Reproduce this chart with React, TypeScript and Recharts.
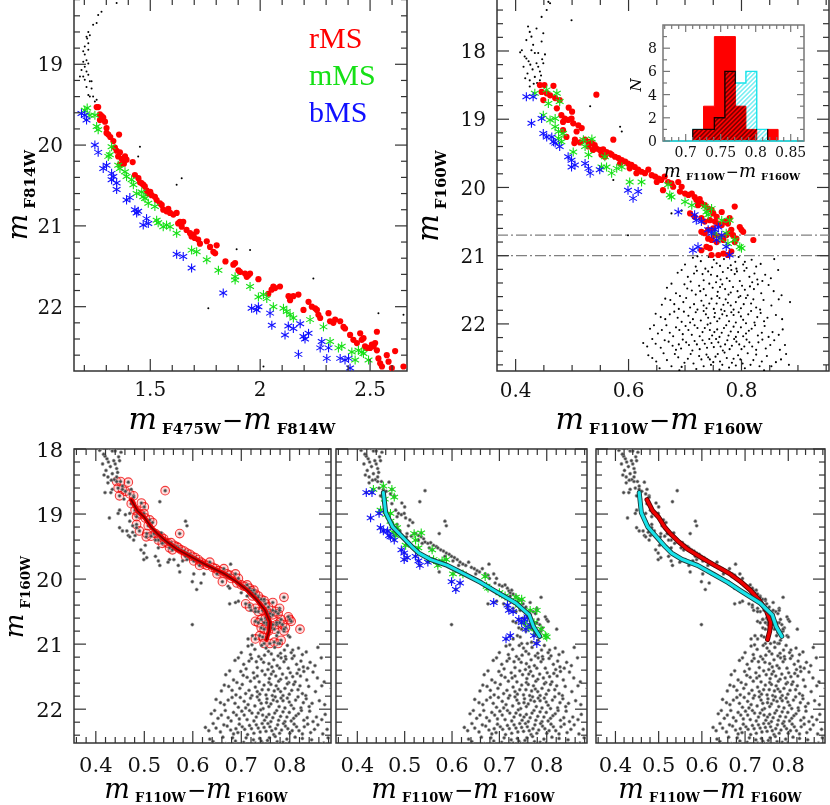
import React from 'react';
import { ScatterChart, ComposedChart, Scatter, Area, XAxis, YAxis, ReferenceArea, ReferenceLine } from 'recharts';

type P = [number, number];

// ---------------- Panel A: optical CMD (F475W-F814W, F814W) ----------------
const A_BLACK: P[] = [
  [1.347,18.24],[1.278,18.35],[1.263,18.39],[1.256,18.49],[1.24,18.51],[1.218,18.6],[1.21,18.66],[1.225,18.64],[1.213,18.68],
  [1.202,18.78],[1.218,18.82],[1.202,18.88],[1.21,18.95],[1.195,18.97],[1.218,18.99],[1.202,19.03],[1.187,19.07],[1.21,19.09],
  [1.218,19.13],[1.195,19.15],[1.202,19.19],[1.225,19.21],[1.21,19.28],[1.233,19.3],[1.218,19.38],[1.24,19.4],[1.225,19.4],
  [1.256,19.44],[1.248,19.46],[1.233,19.21],[1.18,19.15],[1.218,18.74],[1.195,18.84],[1.453,20.02],[1.445,20.14],[1.643,20.41],
  [1.62,20.49],[1.893,21.29],[1.954,21.3],[2.242,21.65],[1.764,22.02],[2.538,22.08],[2.652,22.1],[2.015,22.74],
];
const A_RMS: P[] = [
  [1.256,19.53],[1.263,19.53],[1.271,19.62],[1.279,19.64],[1.286,19.66],[1.271,19.69],[1.294,19.71],[1.301,19.79],[1.301,19.85],
  [1.309,19.87],[1.358,19.87],[1.332,19.95],[1.339,20.03],[1.347,20.07],[1.362,20.09],[1.354,20.14],[1.385,20.14],[1.392,20.18],
  [1.377,20.22],[1.362,20.24],[1.42,20.21],[1.38,20.23],[1.43,20.37],[1.446,20.41],[1.453,20.46],[1.46,20.47],[1.468,20.49],
  [1.475,20.51],[1.483,20.56],[1.49,20.6],[1.506,20.62],[1.521,20.64],[1.529,20.68],[1.544,20.72],[1.552,20.74],[1.559,20.8],
  [1.574,20.82],[1.59,20.84],[1.605,20.86],[1.62,20.84],[1.635,20.95],[1.627,20.97],[1.65,20.95],[1.643,21.01],[1.665,21.05],
  [1.681,21.09],[1.696,21.11],[1.688,21.13],[1.711,21.07],[1.718,21.17],[1.726,21.22],[1.757,21.19],[1.772,21.26],[1.787,21.32],
  [1.802,21.24],[1.795,21.34],[1.842,21.44],[1.878,21.48],[1.886,21.46],[1.901,21.55],[1.908,21.57],[1.931,21.59],[1.939,21.63],
  [1.946,21.61],[1.954,21.59],[1.992,21.66],[2.037,21.84],[2.052,21.79],[2.068,21.77],[2.09,21.75],[2.06,21.75],[2.129,21.87],
  [2.136,21.92],[2.151,21.87],[2.174,21.85],[2.197,22.04],[2.22,21.94],[2.235,22.0],[2.25,22.02],[2.258,22.04],[2.265,22.1],
  [2.273,22.14],[2.311,22.08],[2.318,22.18],[2.333,22.2],[2.341,22.16],[2.364,22.18],[2.379,22.25],[2.386,22.27],[2.409,22.35],
  [2.424,22.41],[2.44,22.45],[2.455,22.33],[2.462,22.41],[2.47,22.39],[2.477,22.49],[2.485,22.51],[2.5,22.51],[2.508,22.47],
  [2.516,22.49],[2.523,22.45],[2.531,22.31],[2.531,22.54],[2.538,22.64],[2.546,22.7],[2.554,22.74],[2.576,22.6],[2.584,22.68],
  [2.599,22.76],[2.614,22.55],[2.652,22.74],[1.318,19.9],[1.37,20.17],[1.5,20.58],[1.582,20.79],[1.702,21.15],
];
const A_MMS: P[] = [
  [1.202,19.57],[1.213,19.54],[1.225,19.63],[1.248,19.63],[1.256,19.77],[1.263,19.81],[1.324,20.02],[1.316,20.12],[1.309,20.14],
  [1.354,20.25],[1.362,20.29],[1.385,20.33],[1.392,20.39],[1.415,20.43],[1.423,20.49],[1.438,20.6],[1.461,20.58],[1.468,20.64],
  [1.476,20.66],[1.491,20.72],[1.521,20.76],[1.529,20.93],[1.536,20.96],[1.559,21.01],[1.574,20.99],[1.59,21.01],[1.62,21.09],
  [1.688,21.3],[1.711,21.32],[1.757,21.42],[1.81,21.55],[1.886,21.63],[1.886,21.67],[1.954,21.75],[1.992,21.88],[2.015,21.85],
  [2.03,21.9],[2.06,22.0],[2.106,22.02],[2.121,22.06],[2.136,22.1],[2.151,22.14],[2.227,22.16],[2.288,22.25],[2.318,22.43],
  [2.356,22.51],[2.371,22.49],[2.417,22.56],[2.432,22.66],[2.447,22.54],[2.462,22.56],[2.47,22.58],[2.493,22.66],
];
const A_BMS: P[] = [
  [1.187,19.61],[1.202,19.63],[1.21,19.69],[1.248,20.0],[1.263,20.09],[1.286,20.29],[1.301,20.25],[1.324,20.35],[1.332,20.39],
  [1.324,20.43],[1.347,20.47],[1.347,20.55],[1.392,20.68],[1.407,20.65],[1.43,20.8],[1.438,20.84],[1.445,20.82],[1.483,20.91],
  [1.468,20.99],[1.491,20.97],[1.62,21.35],[1.65,21.38],[1.688,21.52],[1.832,21.83],[1.961,22.02],[1.984,22.04],[1.992,22.0],
  [2.045,22.08],[2.053,22.23],[2.113,22.35],[2.128,22.24],[2.151,22.27],[2.182,22.21],[2.197,22.37],[2.204,22.4],[2.22,22.33],
  [2.174,22.59],[2.273,22.51],[2.28,22.43],[2.311,22.51],[2.303,22.64],[2.364,22.64],[2.386,22.66],[2.402,22.64],[2.409,22.76],
];
const GROUP_LABELS = ['rMS', 'mMS', 'bMS'];

// ---------------- IR CMD (F110W-F160W, F160W) ----------------
const IR_UPPER: P[] = [
  [0.411,17.99],[0.419,17.84],[0.425,17.72],[0.428,17.79],[0.431,17.91],[0.434,18.03],[0.437,18.18],[0.44,18.23],[0.443,18.3],
  [0.434,18.38],[0.417,18.4],[0.414,18.23],[0.425,18.43],[0.443,18.43],[0.446,17.86],[0.449,17.74],[0.446,17.5],[0.455,17.4],
  [0.461,17.3],[0.458,17.28],[0.499,17.55],[0.419,18.11],[0.428,17.99],[0.437,17.67],[0.422,17.64],[0.44,18.03],[0.449,18.18],
  [0.416,18.08],[0.423,18.15],[0.43,18.27],[0.421,18.33],[0.438,18.47],[0.447,18.12],[0.452,18.05],[0.432,18.48],[0.425,18.52],
  [0.408,18.02],[0.426,18.2],[0.445,18.36],
];
const IR_FIELD: P[] = [
  [0.532,18.81],[0.585,19.11],[0.588,19.18],[0.599,20.7],[0.676,20.38],[0.694,20.34],[0.573,19.89],[0.678,19.77],
];
const IR_LOWER: P[] = [
  [0.714,21.03],[0.728,21.08],[0.742,21.02],[0.756,21.11],[0.769,21.05],[0.781,21.14],[0.795,21.02],[0.806,21.09],[0.818,21.06],
  [0.748,21.17],[0.736,21.19],[0.791,21.19],[0.762,21.15],[0.809,21.18],[0.7,21.13],[0.826,21.16],
  [0.722,21.01],[0.751,21.06],[0.789,21.09],[0.834,21.12],[0.776,21.18],[0.719,21.16],[0.803,21.13],[0.858,21.05],
  [0.687,21.25],[0.705,21.31],[0.721,21.22],[0.733,21.36],[0.746,21.28],[0.755,21.39],[0.767,21.24],[0.774,21.33],[0.788,21.27],
  [0.797,21.37],[0.805,21.22],[0.814,21.31],[0.828,21.35],[0.842,21.28],[0.865,21.21],[0.741,21.23],[0.763,21.35],[0.782,21.21],
  [0.71,21.38],[0.819,21.39],
  [0.694,21.21],[0.731,21.27],[0.757,21.3],[0.779,21.37],[0.792,21.23],[0.823,21.26],[0.837,21.37],[0.716,21.26],[0.852,21.33],
  [0.668,21.47],[0.684,21.55],[0.699,21.42],[0.712,21.51],[0.725,21.44],[0.737,21.58],[0.749,21.47],[0.758,21.53],[0.766,21.42],
  [0.777,21.57],[0.785,21.46],[0.793,21.52],[0.801,21.44],[0.811,21.58],[0.822,21.49],[0.835,21.55],[0.848,21.43],[0.871,21.58],
  [0.727,21.52],[0.771,21.49],[0.757,21.59],[0.806,21.5],[0.691,21.59],
  [0.676,21.41],[0.704,21.48],[0.719,21.57],[0.743,21.41],[0.762,21.46],[0.781,21.54],[0.798,21.59],[0.815,21.45],[0.829,21.42],
  [0.857,21.52],[0.733,21.49],
  [0.659,21.72],[0.674,21.65],[0.689,21.78],[0.702,21.62],[0.716,21.71],[0.729,21.66],[0.738,21.77],[0.747,21.63],[0.756,21.7],
  [0.764,21.79],[0.772,21.64],[0.781,21.73],[0.79,21.68],[0.799,21.77],[0.808,21.62],[0.817,21.7],[0.826,21.76],[0.839,21.65],
  [0.853,21.73],[0.886,21.68],[0.743,21.7],[0.768,21.72],[0.795,21.61],[0.722,21.79],
  [0.665,21.63],[0.681,21.71],[0.697,21.68],[0.709,21.76],[0.733,21.73],[0.751,21.78],[0.776,21.69],[0.786,21.79],[0.804,21.71],
  [0.821,21.64],[0.833,21.79],[0.866,21.64],[0.761,21.62],
  [0.648,21.85],[0.665,21.93],[0.681,21.82],[0.694,21.97],[0.706,21.88],[0.719,21.83],[0.728,21.95],[0.737,21.86],[0.745,21.99],
  [0.753,21.84],[0.761,21.92],[0.77,21.81],[0.778,21.96],[0.786,21.87],[0.795,21.83],[0.803,21.94],[0.812,21.86],[0.823,21.98],
  [0.834,21.84],[0.846,21.91],[0.861,21.87],[0.752,21.9],[0.774,21.88],[0.79,21.98],[0.709,21.98],[0.817,21.81],
  [0.657,21.9],[0.673,21.86],[0.687,21.91],[0.698,21.82],[0.714,21.93],[0.733,21.81],[0.741,21.91],[0.757,21.96],[0.766,21.86],
  [0.782,21.83],[0.799,21.89],[0.808,21.99],[0.828,21.9],[0.84,21.96],[0.872,21.93],
  [0.638,22.07],[0.652,22.14],[0.667,22.02],[0.679,22.18],[0.69,22.09],[0.701,22.03],[0.712,22.16],[0.722,22.06],[0.731,22.12],
  [0.74,22.01],[0.748,22.17],[0.757,22.08],[0.765,22.13],[0.773,22.02],[0.781,22.11],[0.79,22.19],[0.799,22.05],[0.808,22.14],
  [0.818,22.07],[0.829,22.17],[0.841,22.03],[0.855,22.12],[0.873,22.08],[0.744,22.09],[0.761,22.19],[0.786,22.04],[0.726,22.18],
  [0.803,22.18],
  [0.645,22.02],[0.659,22.09],[0.673,22.13],[0.684,22.05],[0.696,22.15],[0.706,22.09],[0.717,22.02],[0.735,22.06],[0.752,22.12],
  [0.769,22.06],[0.777,22.17],[0.794,22.12],[0.813,22.1],[0.824,22.02],[0.836,22.13],[0.848,22.19],[0.866,22.16],
  [0.626,22.28],[0.642,22.22],[0.657,22.35],[0.671,22.26],[0.684,22.38],[0.696,22.23],[0.707,22.31],[0.717,22.25],[0.726,22.37],
  [0.735,22.29],[0.743,22.22],[0.751,22.34],[0.759,22.27],[0.767,22.39],[0.775,22.24],[0.783,22.32],[0.791,22.26],[0.8,22.37],
  [0.809,22.23],[0.819,22.33],[0.83,22.27],[0.843,22.36],[0.858,22.24],[0.877,22.31],[0.739,22.35],[0.755,22.22],[0.771,22.3],
  [0.796,22.3],[0.713,22.39],[0.689,22.3],
  [0.633,22.33],[0.648,22.29],[0.664,22.24],[0.678,22.32],[0.693,22.36],[0.702,22.27],[0.721,22.3],[0.731,22.24],[0.747,22.28],
  [0.763,22.33],[0.779,22.37],[0.787,22.22],[0.805,22.33],[0.814,22.27],[0.826,22.38],[0.837,22.23],[0.851,22.31],[0.868,22.38],
  [0.635,22.46],[0.649,22.55],[0.662,22.43],[0.676,22.62],[0.688,22.49],[0.699,22.57],[0.71,22.44],[0.72,22.66],[0.729,22.52],
  [0.738,22.45],[0.746,22.6],[0.754,22.48],[0.762,22.55],[0.77,22.42],[0.778,22.64],[0.786,22.51],[0.794,22.46],[0.802,22.58],
  [0.811,22.43],[0.821,22.53],[0.832,22.62],[0.845,22.47],[0.861,22.56],[0.879,22.44],[0.744,22.52],[0.761,22.67],[0.783,22.57],
  [0.725,22.47],[0.806,22.65],[0.69,22.68],[0.655,22.65],[0.84,22.68],
  [0.642,22.5],[0.668,22.53],[0.682,22.44],[0.694,22.63],[0.705,22.51],[0.715,22.58],[0.733,22.62],[0.741,22.49],[0.75,22.56],
  [0.758,22.44],[0.766,22.6],[0.774,22.5],[0.79,22.61],[0.798,22.52],[0.816,22.6],[0.826,22.45],[0.836,22.55],[0.853,22.62],
  [0.87,22.52],[0.884,22.6],
];
const IR_RMS: P[] = [
  [0.443,18.5],[0.451,18.5],[0.467,18.51],[0.446,18.6],[0.455,18.62],[0.461,18.65],[0.449,18.72],[0.47,18.69],[0.478,18.72],
  [0.473,18.84],[0.543,18.64],[0.494,18.83],[0.5,18.89],[0.481,18.94],[0.487,18.99],[0.493,19.01],[0.484,19.04],[0.499,18.99],
  [0.502,19.06],[0.484,19.16],[0.511,19.09],[0.517,19.13],[0.508,19.18],[0.49,19.26],[0.505,19.3],[0.504,19.35],[0.514,19.34],
  [0.523,19.3],[0.529,19.33],[0.535,19.35],[0.54,19.38],[0.529,19.4],[0.543,19.43],[0.549,19.45],[0.555,19.44],[0.561,19.48],
  [0.567,19.5],[0.552,19.52],[0.558,19.55],[0.57,19.52],[0.576,19.55],[0.582,19.57],[0.573,19.3],[0.588,19.6],[0.594,19.62],
  [0.599,19.65],[0.605,19.67],[0.611,19.7],[0.602,19.72],[0.617,19.74],[0.623,19.77],[0.629,19.79],[0.635,19.74],[0.641,19.82],
  [0.647,19.84],[0.653,19.87],[0.658,19.89],[0.664,19.84],[0.67,19.92],[0.676,19.94],[0.661,20.04],[0.688,19.92],[0.694,19.99],
  [0.691,20.06],[0.7,20.09],[0.706,20.11],[0.712,20.09],[0.717,20.14],[0.72,20.18],[0.723,20.21],[0.729,20.23],[0.726,20.17],
  [0.735,20.26],[0.741,20.31],[0.747,20.33],[0.709,20.38],[0.717,20.43],[0.729,20.45],[0.735,20.5],[0.744,20.48],[0.753,20.5],
  [0.759,20.53],[0.765,20.55],[0.771,20.5],[0.776,20.53],[0.779,20.45],[0.788,20.28],[0.765,20.36],[0.797,20.58],[0.8,20.62],
  [0.803,20.65],[0.821,20.77],[0.729,20.65],[0.735,20.67],[0.741,20.75],[0.747,20.77],[0.753,20.7],[0.756,20.8],[0.762,20.72],
  [0.768,20.77],[0.773,20.7],[0.779,20.67],[0.785,20.7],[0.791,20.75],[0.738,20.87],[0.744,20.89],[0.729,20.92],[0.747,20.99],
  [0.759,20.99],[0.768,20.97],[0.776,20.99],[0.782,20.94],[0.741,20.62],[0.75,20.6],[0.782,20.62],[0.788,20.8],[0.537,19.45],
  [0.585,19.65],[0.614,19.79],[0.65,19.92],[0.679,19.99],[0.723,20.26],[0.75,20.38],[0.756,20.43],
];
const IR_MMS: P[] = [
  [0.434,18.62],[0.455,18.57],[0.473,18.62],[0.478,18.74],[0.458,18.77],[0.449,18.94],[0.461,19.01],[0.47,18.99],[0.47,19.11],
  [0.476,19.18],[0.484,19.21],[0.476,19.28],[0.481,19.33],[0.52,19.3],[0.523,19.4],[0.529,19.52],[0.502,19.48],[0.558,19.55],
  [0.561,19.7],[0.57,19.79],[0.579,19.72],[0.588,19.7],[0.602,19.92],[0.623,19.92],[0.67,19.96],[0.673,20.11],[0.676,20.14],
  [0.7,20.21],[0.712,20.26],[0.735,20.28],[0.738,20.36],[0.741,20.4],[0.747,20.31],[0.765,20.48],[0.779,20.48],[0.773,20.67],
  [0.788,20.77],[0.797,20.87],[0.8,20.89],[0.776,20.82],[0.753,20.67],[0.762,20.75],[0.535,19.29],[0.552,19.7],
];
const IR_BMS: P[] = [
  [0.419,18.67],[0.431,18.67],[0.428,19.06],[0.446,18.99],[0.449,19.21],[0.455,19.26],[0.464,19.26],[0.467,19.33],[0.47,19.35],
  [0.478,19.4],[0.493,19.55],[0.499,19.6],[0.505,19.67],[0.499,19.7],[0.523,19.65],[0.529,19.72],[0.532,19.79],[0.549,19.74],
  [0.599,20.04],[0.617,20.06],[0.608,20.16],[0.688,20.36],[0.717,20.4],[0.72,20.48],[0.729,20.5],[0.714,20.92],[0.723,20.87],
  [0.741,20.62],[0.753,20.62],[0.759,20.58],[0.765,20.7],[0.773,20.87],[0.779,20.99],[0.756,20.77],[0.747,20.67],
];
const FID_RED: P[] = [
  [0.473,18.78],[0.486,18.95],[0.5,19.05],[0.514,19.2],[0.527,19.3],[0.547,19.43],[0.567,19.54],[0.594,19.65],[0.63,19.79],
  [0.663,19.91],[0.69,20.04],[0.712,20.17],[0.732,20.32],[0.749,20.48],[0.759,20.66],[0.757,20.8],[0.752,20.93],
];
const FID_CYAN: P[] = [
  [0.455,18.67],[0.46,18.98],[0.475,19.2],[0.495,19.35],[0.515,19.5],[0.53,19.6],[0.555,19.7],[0.59,19.79],[0.628,19.93],
  [0.66,20.05],[0.69,20.18],[0.735,20.37],[0.763,20.55],[0.772,20.73],[0.785,20.88],
];
const CUT_LINES = [20.7, 21.0];

// ---------------- Inset histogram ----------------
const HIST_EDGES = [0.71, 0.7255, 0.741, 0.756, 0.771, 0.786, 0.8015, 0.817, 0.832];
const HIST_RED = [1, 3, 9, 9, 3, 1, 0, 1];
const HIST_CYAN = [1, 1, 2, 6, 5, 6, 1, 0];

// ---------------- helpers ----------------
const pts = (a: P[]) => a.map(([x, y]) => ({ x, y }));
const range = (a: number, b: number, s: number) => {
  const out: number[] = [];
  for (let i = 0; a + i * s <= b + 1e-9; i++) out.push(Math.round((a + i * s) * 1e4) / 1e4);
  return out;
};
const near = (list: number[], v: number) => list.some((m) => Math.abs(m - v) < 1e-6);
const minors = (a: number, b: number, s: number, maj: number[]) => range(a, b, s).filter((v) => !near(maj, v));

const histData = (() => {
  const n = HIST_RED.length;
  const rows: any[] = [{ x: HIST_EDGES[0], red: 0, cyan: 0 }];
  for (let i = 0; i < n; i++) rows.push({ x: HIST_EDGES[i], red: HIST_RED[i], cyan: HIST_CYAN[i] });
  rows.push({ x: HIST_EDGES[n], red: HIST_RED[n - 1], cyan: HIST_CYAN[n - 1] });
  rows.push({ x: HIST_EDGES[n], red: 0, cyan: 0 });
  return rows;
})();

const SERIF = 'DejaVu Serif';
const RED = '#ff0000';
const GREEN = '#16e016';
const BLUE = '#1010ff';
const CYAN = '#19e3ea';

const dotShape = (r: number, fill: string, stroke?: string, sw = 0.6) => (p: any) =>
  <circle cx={p.cx} cy={p.cy} r={r} fill={fill} stroke={stroke || 'none'} strokeWidth={sw} />;
const starShape = (color: string, a: number) => (p: any) => {
  const { cx, cy } = p;
  const c = a * 0.866, h = a * 0.5;
  return (
    <g stroke={color} strokeWidth={1.1}>
      <line x1={cx} y1={cy - a} x2={cx} y2={cy + a} />
      <line x1={cx - c} y1={cy - h} x2={cx + c} y2={cy + h} />
      <line x1={cx - c} y1={cy + h} x2={cx + c} y2={cy - h} />
    </g>
  );
};
const noShape = () => <g />;

type Spec = {
  box: [number, number, number, number];
  xd: [number, number]; yd: [number, number];
  xMaj: number[]; xMin: number[]; yMaj: number[]; yMin: number[];
  xFmt: ((v: number) => string) | null; yFmt: ((v: number) => string) | null;
  fs: number; maj: number; min: number; xdy: number; ygap: number;
  color: string; axw: number; axh: number; reversed: boolean; padTop: number;
};

function Chart({ s, composed, data, children }: { s: Spec; composed?: boolean; data?: any[]; children: any }) {
  const [L, T, W, H] = s.box;
  const PAD = 2;
  const xTick = (p: any) => {
    const { x, y, payload } = p;
    const v = payload.value;
    const mj = near(s.xMaj, v);
    const len = mj ? s.maj : s.min;
    return (
      <g>
        <line x1={x} x2={x} y1={y} y2={y - len} stroke={s.color} strokeWidth={1.2} />
        <line x1={x} x2={x} y1={y - H} y2={y - H + len} stroke={s.color} strokeWidth={1.2} />
        {mj && s.xFmt && (
          <text x={x} y={y + s.xdy} textAnchor="middle" fontFamily={SERIF} fontSize={s.fs} fill="#111">{s.xFmt(v)}</text>
        )}
      </g>
    );
  };
  const yTick = (p: any) => {
    const { x, y, payload } = p;
    const v = payload.value;
    const mj = near(s.yMaj, v);
    const len = mj ? s.maj : s.min;
    return (
      <g>
        <line x1={x} x2={x + len} y1={y} y2={y} stroke={s.color} strokeWidth={1.2} />
        <line x1={x + W} x2={x + W - len} y1={y} y2={y} stroke={s.color} strokeWidth={1.2} />
        {mj && s.yFmt && (
          <text x={x - s.ygap} y={y + s.fs * 0.36} textAnchor="end" fontFamily={SERIF} fontSize={s.fs} fill="#111">{s.yFmt(v)}</text>
        )}
      </g>
    );
  };
  const common = {
    width: s.axw + W + PAD,
    height: s.padTop + H + s.axh,
    margin: { top: s.padTop, right: PAD, bottom: 0, left: 0 },
  };
  const inner = [
    <XAxis key="xa" type="number" dataKey="x" domain={s.xd} allowDataOverflow ticks={[...s.xMin, ...s.xMaj]} interval={0}
      tick={xTick} tickLine={false} axisLine={false} tickSize={0} tickMargin={0} height={s.axh} />,
    <YAxis key="ya" type="number" dataKey="y" domain={s.yd} reversed={s.reversed} allowDataOverflow ticks={[...s.yMin, ...s.yMaj]}
      interval={0} tick={yTick} tickLine={false} axisLine={false} tickSize={0} tickMargin={0} width={s.axw} />,
    ...children,
    <ReferenceArea key="frame" x1={s.xd[0]} x2={s.xd[1]} y1={s.yd[0]} y2={s.yd[1]} fill="none" stroke={s.color} strokeWidth={1.5} ifOverflow="visible" />,
  ];
  return (
    <div style={{ position: 'absolute', left: L - s.axw, top: T - s.padTop }}>
      {composed ? (
        <ComposedChart {...common} data={data}>{inner}</ComposedChart>
      ) : (
        <ScatterChart {...common}>{inner}</ScatterChart>
      )}
    </div>
  );
}

const fmt1 = (v: number) => v.toFixed(1);
const fmtS = (v: number) => String(v);

const A_SPEC: Spec = {
  box: [74, -1, 333, 372], xd: [1.153, 2.668], yd: [18.192, 22.796],
  xMaj: [1.5, 2, 2.5], xMin: minors(1.2, 2.6, 0.1, [1.5, 2, 2.5]),
  yMaj: [19, 20, 21, 22], yMin: minors(18.2, 22.6, 0.2, [19, 20, 21, 22]),
  xFmt: fmtS, yFmt: fmtS, fs: 20, maj: 12, min: 6, xdy: 25, ygap: 11, color: '#333', axw: 74, axh: 40, reversed: true, padTop: 2,
};
const B_SPEC: Spec = {
  box: [497, -1, 332, 372], xd: [0.367, 0.955], yd: [17.238, 22.69],
  xMaj: [0.4, 0.6, 0.8], xMin: minors(0.4, 0.95, 0.05, [0.4, 0.6, 0.8]),
  yMaj: [18, 19, 20, 21, 22], yMin: minors(17.4, 22.6, 0.2, [18, 19, 20, 21, 22]),
  xFmt: fmt1, yFmt: fmtS, fs: 20, maj: 12, min: 6, xdy: 26, ygap: 11, color: '#333', axw: 70, axh: 40, reversed: true, padTop: 2,
};
const INSET_SPEC: Spec = {
  box: [663, 25, 141, 116], xd: [0.6676, 0.869], yd: [0, 10],
  xMaj: [0.7, 0.75, 0.8, 0.85], xMin: minors(0.67, 0.86, 0.01, [0.7, 0.75, 0.8, 0.85]),
  yMaj: [0, 2, 4, 6, 8], yMin: [1, 3, 5, 7, 9],
  xFmt: fmtS, yFmt: fmtS, fs: 14, maj: 7, min: 4, xdy: 16, ygap: 6, color: '#777', axw: 36, axh: 24, reversed: false, padTop: 2,
};
const bottomSpec = (box: [number, number, number, number], yLabels: boolean): Spec => ({
  box, xd: [0.355, 0.885], yd: [18, 22.52],
  xMaj: [0.4, 0.5, 0.6, 0.7, 0.8], xMin: minors(0.36, 0.88, 0.02, [0.4, 0.5, 0.6, 0.7, 0.8]),
  yMaj: [18, 19, 20, 21, 22], yMin: minors(18, 22.4, 0.2, [18, 19, 20, 21, 22]),
  xFmt: fmt1, yFmt: yLabels ? fmtS : null, fs: 21, maj: 12, min: 6, xdy: 29, ygap: 11, color: '#333', axw: 74, axh: 45,
  reversed: true, padTop: 14,
});
const C_SPEC = bottomSpec([74, 449, 257, 294], true);
const D_SPEC = bottomSpec([336, 449, 251, 294], false);
const E_SPEC = bottomSpec([596, 449, 229, 294], false);

const ALL_IR_DOTS = [...IR_UPPER, ...IR_FIELD, ...IR_RMS, ...IR_MMS, ...IR_BMS, ...IR_LOWER];
const grayDot = dotShape(1.6, '#474747', '#a0a0a0', 0.6);

function fidLine(key: string, data: P[], outer: string, ow: number, innerC: string, iw: number) {
  return [
    <Scatter key={key + 'o'} data={pts(data)} shape={noShape} isAnimationActive={false} lineType="joint"
      line={{ stroke: outer, strokeWidth: ow, strokeLinejoin: 'round', strokeLinecap: 'round' }} />,
    <Scatter key={key + 'i'} data={pts(data)} shape={noShape} isAnimationActive={false} lineType="joint"
      line={{ stroke: innerC, strokeWidth: iw, strokeLinejoin: 'round', strokeLinecap: 'round' }} />,
  ];
}

function MLabel({ x, y, subs, mSize, subSize, subDy, rotate }: any) {
  return (
    <text transform={`translate(${x},${y})${rotate ? ' rotate(-90)' : ''}`} textAnchor="middle" fill="#000">
      <tspan fontFamily={SERIF} fontStyle="italic" fontSize={mSize}>m</tspan>
      <tspan fontFamily={SERIF} fontWeight="bold" fontSize={subSize} dx={5} dy={subDy}>{subs[0]}</tspan>
      {subs[1] && (
        <>
          <tspan fontFamily="DejaVu Sans" fontSize={mSize * 0.85} dy={-subDy} dx={1}>−</tspan>
          <tspan fontFamily={SERIF} fontStyle="italic" fontSize={mSize}>m</tspan>
          <tspan fontFamily={SERIF} fontWeight="bold" fontSize={subSize} dx={5} dy={subDy}>{subs[1]}</tspan>
        </>
      )}
    </text>
  );
}

export default function App() {
  const groupColors = [RED, GREEN, BLUE];
  return (
    <div style={{ position: 'absolute', left: 0, top: 0, width: 830, height: 805, background: '#fff', overflow: 'hidden' }}>
      <style>{`.hatchArea { mix-blend-mode: multiply; }`}</style>
      <svg width={0} height={0} style={{ position: 'absolute' }}>
        <defs>
          <pattern id="hatchCyan" patternUnits="userSpaceOnUse" width="3.2" height="3.2" patternTransform="rotate(45)">
            <line x1="0.8" y1="0" x2="0.8" y2="3.2" stroke={CYAN} strokeWidth="0.9" />
          </pattern>
        </defs>
      </svg>

      {/* Panel A */}
      <Chart s={A_SPEC}>
        {[
          <Scatter key="ab" data={pts(A_BLACK)} shape={dotShape(1, '#000')} isAnimationActive={false} />,
          <Scatter key="ar" data={pts(A_RMS)} shape={dotShape(3.1, RED)} isAnimationActive={false} />,
          <Scatter key="am" data={pts(A_MMS)} shape={starShape(GREEN, 4.5)} isAnimationActive={false} />,
          <Scatter key="abl" data={pts(A_BMS)} shape={starShape(BLUE, 4.5)} isAnimationActive={false} />,
        ]}
      </Chart>

      {/* Panel B */}
      <Chart s={B_SPEC}>
        {[
          ...CUT_LINES.map((c) => (
            <ReferenceLine key={'cut' + c} y={c} stroke="#808080" strokeWidth={1.2} strokeDasharray="11 3 2 3" />
          )),
          <Scatter key="bb" data={pts([...IR_UPPER, ...IR_FIELD, ...IR_LOWER])} shape={dotShape(1.05, '#000')} isAnimationActive={false} />,
          <Scatter key="br" data={pts(IR_RMS)} shape={dotShape(3.1, RED)} isAnimationActive={false} />,
          <Scatter key="bm" data={pts(IR_MMS)} shape={starShape(GREEN, 4.5)} isAnimationActive={false} />,
          <Scatter key="bbl" data={pts(IR_BMS)} shape={starShape(BLUE, 4.5)} isAnimationActive={false} />,
        ]}
      </Chart>

      {/* Inset histogram */}
      <Chart s={INSET_SPEC} composed data={histData}>
        {[
          <ReferenceArea key="bg" x1={INSET_SPEC.xd[0]} x2={INSET_SPEC.xd[1]} y1={0} y2={10} fill="#fff" fillOpacity={1} stroke="none" />,
          <Area key="hr" type="stepAfter" dataKey="red" baseValue={0} fill={RED} fillOpacity={1} stroke={RED} strokeWidth={1}
            dot={false} activeDot={false} isAnimationActive={false} />,
          <Area key="hc" className="hatchArea" type="stepAfter" dataKey="cyan" baseValue={0} fill="url(#hatchCyan)" fillOpacity={1}
            stroke={CYAN} strokeWidth={1.4} dot={false} activeDot={false} isAnimationActive={false} />,
          <ReferenceLine key="base" y={0} stroke={CYAN} strokeWidth={1.6} />,
        ]}
      </Chart>

      {/* Panel C */}
      <Chart s={C_SPEC}>
        {[
          <Scatter key="cc" data={pts(IR_RMS)} shape={dotShape(4.3, 'rgba(255,60,60,0.18)', 'rgba(240,0,0,0.75)', 1.1)} isAnimationActive={false} />,
          <Scatter key="cb" data={pts(ALL_IR_DOTS)} shape={grayDot} isAnimationActive={false} />,
          ...fidLine('cf', FID_RED, '#e80000', 4.5, '#7a0000', 1.6),
        ]}
      </Chart>

      {/* Panel D */}
      <Chart s={D_SPEC}>
        {[
          <Scatter key="db" data={pts(ALL_IR_DOTS)} shape={grayDot} isAnimationActive={false} />,
          <Scatter key="dm" data={pts(IR_MMS)} shape={starShape(GREEN, 4.4)} isAnimationActive={false} />,
          <Scatter key="dbl" data={pts(IR_BMS)} shape={starShape(BLUE, 4.4)} isAnimationActive={false} />,
          ...fidLine('dc', FID_CYAN, '#1a3a3a', 5, CYAN, 3),
        ]}
      </Chart>

      {/* Panel E */}
      <Chart s={E_SPEC}>
        {[
          <Scatter key="eb" data={pts(ALL_IR_DOTS)} shape={grayDot} isAnimationActive={false} />,
          ...fidLine('er', FID_RED, '#5a0000', 5, '#ee0000', 3.2),
          ...fidLine('ec', FID_CYAN, '#1a3a3a', 5, CYAN, 3.2),
        ]}
      </Chart>

      {/* Text overlay */}
      <svg width={830} height={805} style={{ position: 'absolute', left: 0, top: 0, pointerEvents: 'none' }}>
        {GROUP_LABELS.map((g, i) => (
          <text key={g} x={309} y={48 + i * 37} fontFamily="Liberation Serif" fontSize={30} fill={groupColors[i]}>{g}</text>
        ))}
        <MLabel x={232} y={429} subs={['F475W', 'F814W']} mSize={30} subSize={15} subDy={5} />
        <MLabel x={659} y={429} subs={['F110W', 'F160W']} mSize={30} subSize={15} subDy={5} />
        <MLabel x={27} y={195} subs={['F814W']} mSize={28} subSize={15} subDy={8} rotate />
        <MLabel x={438} y={196} subs={['F160W']} mSize={29} subSize={15} subDy={8} rotate />
        <MLabel x={23} y={597} subs={['F160W']} mSize={26} subSize={13.5} subDy={7} rotate />
        <MLabel x={196} y={798} subs={['F110W', 'F160W']} mSize={27} subSize={13} subDy={4} />
        <MLabel x={463} y={798} subs={['F110W', 'F160W']} mSize={27} subSize={13} subDy={4} />
        <MLabel x={710} y={798} subs={['F110W', 'F160W']} mSize={27} subSize={13} subDy={4} />
        <MLabel x={732} y={177} subs={['F110W', 'F160W']} mSize={18} subSize={10} subDy={3} />
        <text transform="translate(641,85) rotate(-90)" textAnchor="middle" fontFamily={SERIF} fontStyle="italic" fontSize={15} fill="#000">N</text>
      </svg>
    </div>
  );
}
